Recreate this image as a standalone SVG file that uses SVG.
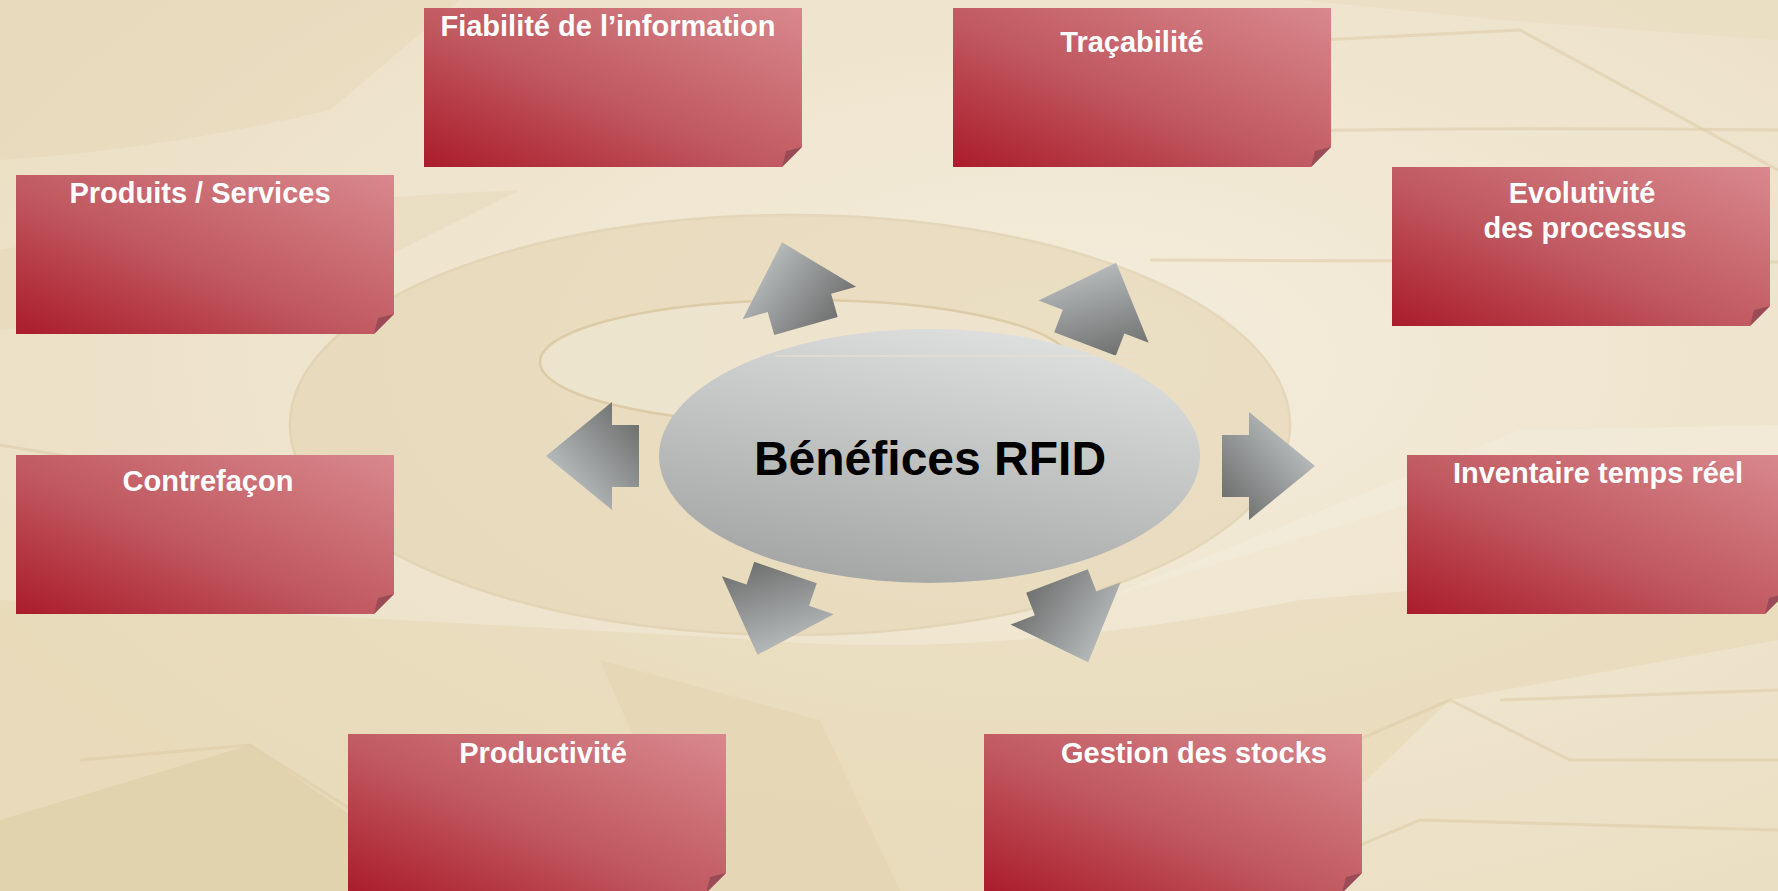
<svg xmlns="http://www.w3.org/2000/svg" width="1778" height="891" viewBox="0 0 1778 891">
  <defs>
    <linearGradient id="cardGrad" x1="0" y1="1" x2="1" y2="0">
      <stop offset="0" stop-color="#aa1c2b"/>
      <stop offset="0.45" stop-color="#c0585f"/>
      <stop offset="1" stop-color="#d8888e"/>
    </linearGradient>
    <linearGradient id="arrowGrad" x1="0" y1="1" x2="1" y2="0">
      <stop offset="0" stop-color="#636564"/>
      <stop offset="1" stop-color="#d0d4d5"/>
    </linearGradient>
    <linearGradient id="ellGrad" x1="0.7" y1="0" x2="0.3" y2="1">
      <stop offset="0" stop-color="#dfe0e0"/>
      <stop offset="1" stop-color="#a3a5a5"/>
    </linearGradient>
    <radialGradient id="bgGlow" cx="0.6" cy="0.4" r="0.7">
      <stop offset="0" stop-color="#f4ecdc"/>
      <stop offset="1" stop-color="#ebdfc3"/>
    </radialGradient>
    <path id="diagArrow" d="M0,-33 H24 V-59 L87,0 L24,59 V33 H0 Z"/>
    <path id="horzArrow" d="M0,-31 H27 V-54 L93,0 L27,54 V31 H0 Z"/>
    <path id="cardShape" d="M0,0 H378 V139 L358,159 H0 Z"/>
    <path id="foldShape" d="M358,159 L362,143 L378,139 Z"/>
  </defs>
  <style>
    .card { fill: url(#cardGrad); }
    .fold { fill: #9b4b57; }
    .lbl { font-family: "Liberation Sans", Arial, sans-serif; font-weight: bold; font-size: 29px; fill: #ffffff; text-anchor: middle; }
    .arrow { fill: url(#arrowGrad); }
    .bgline { fill: none; stroke: #dccba6; stroke-width: 3; opacity: 0.55; }
  </style>

  <!-- background -->
  <g id="background">
    <rect x="0" y="0" width="1778" height="891" fill="url(#bgGlow)"/>
    <path d="M0,0 H460 L330,110 Q160,150 0,160 Z" fill="#e4d5b4" opacity="0.45"/>
    <path d="M0,250 Q250,200 520,190 L300,300 Q120,320 0,330 Z" fill="#e2d2ae" opacity="0.35"/>
    <path d="M1300,0 H1778 V40 L1500,20 Z" fill="#e6d9bc" opacity="0.4"/>
    <path d="M1320,40 L1520,30 L1778,170" class="bgline"/>
    <path d="M1060,140 Q1300,125 1778,130" class="bgline"/>
    <path d="M1150,260 L1778,262" class="bgline"/>
    <ellipse cx="790" cy="425" rx="500" ry="210" fill="#e3d2ad" opacity="0.5" stroke="#d8c59d" stroke-width="2.5"/>
    <ellipse cx="805" cy="362" rx="265" ry="62" fill="#efe6d1" opacity="0.8" stroke="#dac8a1" stroke-width="2.5"/>
    <path d="M0,600 Q420,620 760,640 Q1000,660 1300,600 L1778,560 V640 L1450,700 L1250,891 H0 Z" fill="#e4d4b0" opacity="0.45"/>
    <path d="M0,820 L250,745 L460,891 H0 Z" fill="#dccaa2" opacity="0.45"/>
    <path d="M600,660 L820,720 L900,891 L700,891 Z" fill="#e0cfa8" opacity="0.35"/>
    <path d="M1100,600 L1520,430 L1778,425 V470 L1520,470 Z" fill="#f4ecdc" opacity="0.6"/>
    <path d="M1500,700 L1778,690" class="bgline"/>
    <path d="M1150,830 L1450,700 L1570,760 L1778,760" class="bgline"/>
    <path d="M1250,891 L1420,820 L1778,830" class="bgline"/>
    <path d="M80,760 L250,745 L430,860" class="bgline"/>
    <path d="M0,445 Q150,470 320,500" class="bgline"/>
  </g>

  <!-- connectors (arrows) -->
  <g id="connectors">
    <use href="#diagArrow" class="arrow" transform="translate(806,326) rotate(-106)"/>
    <use href="#diagArrow" class="arrow" transform="translate(1085,344) rotate(-69)"/>
    <use href="#horzArrow" class="arrow" transform="translate(639,456) rotate(180)"/>
    <use href="#horzArrow" class="arrow" transform="translate(1222,466)"/>
    <use href="#diagArrow" class="arrow" transform="translate(785.5,572.5) rotate(108.8)"/>
    <use href="#diagArrow" class="arrow" transform="translate(1057,581) rotate(69)"/>
  </g>

  <!-- central node -->
  <g id="node-benefices">
    <ellipse cx="929.5" cy="456" rx="270.5" ry="127" fill="url(#ellGrad)"/>
    <line x1="775" y1="356" x2="1140" y2="356" stroke="#e9e2cf" stroke-width="1.5" opacity="0.8"/>
    <text x="930" y="475" font-family="'Liberation Sans', Arial, sans-serif" font-weight="bold" font-size="48" fill="#000000" text-anchor="middle">Bénéfices RFID</text>
  </g>

  <g id="node-fiabilite" transform="translate(424,8)">
    <use href="#cardShape" class="card"/>
    <use href="#foldShape" class="fold"/>
    <text class="lbl" x="184" y="28">Fiabilité de l’information</text>
  </g>

  <g id="node-tracabilite" transform="translate(953,8)">
    <use href="#cardShape" class="card"/>
    <use href="#foldShape" class="fold"/>
    <text class="lbl" x="179" y="44">Traçabilité</text>
  </g>

  <g id="node-produits" transform="translate(16,175)">
    <use href="#cardShape" class="card"/>
    <use href="#foldShape" class="fold"/>
    <text class="lbl" x="184" y="28">Produits / Services</text>
  </g>

  <g id="node-evolutivite" transform="translate(1392,167)">
    <use href="#cardShape" class="card"/>
    <use href="#foldShape" class="fold"/>
    <text class="lbl" x="190" y="36">Evolutivité</text>
    <text class="lbl" x="193" y="71">des processus</text>
  </g>

  <g id="node-contrefacon" transform="translate(16,455)">
    <use href="#cardShape" class="card"/>
    <use href="#foldShape" class="fold"/>
    <text class="lbl" x="192" y="36">Contrefaçon</text>
  </g>

  <g id="node-inventaire" transform="translate(1407,455)">
    <use href="#cardShape" class="card"/>
    <use href="#foldShape" class="fold"/>
    <text class="lbl" x="191" y="28">Inventaire temps réel</text>
  </g>

  <g id="node-productivite" transform="translate(348,734)">
    <use href="#cardShape" class="card"/>
    <use href="#foldShape" class="fold"/>
    <text class="lbl" x="195" y="29">Productivité</text>
  </g>

  <g id="node-gestion" transform="translate(984,734)">
    <use href="#cardShape" class="card"/>
    <use href="#foldShape" class="fold"/>
    <text class="lbl" x="210" y="29">Gestion des stocks</text>
  </g>
</svg>
